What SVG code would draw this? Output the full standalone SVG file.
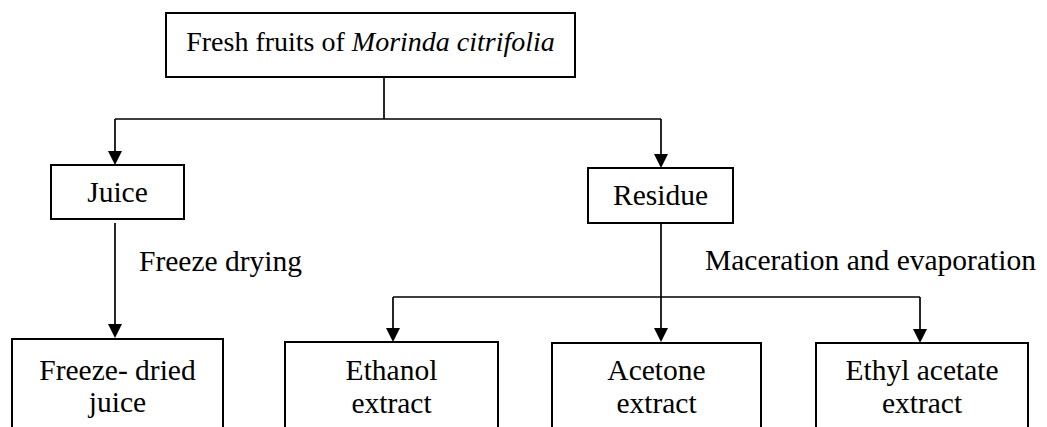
<svg xmlns="http://www.w3.org/2000/svg" width="1047" height="427" viewBox="0 0 1047 427">
<defs>
<style>
.box{fill:#fff;stroke:#000;stroke-width:2}
.t{font-family:"Liberation Serif","Times New Roman",serif;font-size:29.5px;fill:#000}
.c{text-anchor:middle}
.ln{fill:none;stroke:#000;stroke-width:1.7}
.ah{fill:#000}
</style>
</defs>
<rect width="1047" height="427" fill="#fff"/>
<g id="connectors">
<path class="ln" d="M384,77 V119"/>
<path class="ln" d="M115,119 H661"/>
<path class="ln" d="M115,119 V151"/>
<path class="ln" d="M661,119 V154"/>
<path class="ln" d="M115,223 V324"/>
<path class="ln" d="M661,223 V328"/>
<path class="ln" d="M393,297 H920"/>
<path class="ln" d="M393,297 V328"/>
<path class="ln" d="M920,297 V329"/>
<path class="ah" d="M108,151 L122,151 L115,165 Z"/>
<path class="ah" d="M654,154 L668,154 L661,168 Z"/>
<path class="ah" d="M108,324 L122,324 L115,338 Z"/>
<path class="ah" d="M386,328 L400,328 L393,342 Z"/>
<path class="ah" d="M654,328 L668,328 L661,342 Z"/>
<path class="ah" d="M913,329 L927,329 L920,343 Z"/>
<text class="t" x="139" y="271">Freeze drying</text>
<text class="t" x="705" y="270">Maceration and evaporation</text>
</g>
<g id="fresh">
<rect class="box" x="166" y="13" width="409" height="64"/>
<text class="t c" x="370.5" y="51" style="font-size:28px">Fresh fruits of <tspan font-style="italic">Morinda citrifolia</tspan></text>
</g>
<g id="juice">
<rect class="box" x="51" y="165" width="133" height="54"/>
<text class="t c" x="117.5" y="202">Juice</text>
</g>
<g id="residue">
<rect class="box" x="588" y="168" width="145" height="55"/>
<text class="t c" x="660.5" y="205">Residue</text>
</g>
<g id="freeze-dried">
<rect class="box" x="12" y="339" width="211" height="110"/>
<text class="t c" x="117.5" y="380">Freeze- dried</text>
<text class="t c" x="117.5" y="412">juice</text>
</g>
<g id="ethanol">
<rect class="box" x="285" y="342" width="213" height="110"/>
<text class="t c" x="391.5" y="380">Ethanol</text>
<text class="t c" x="391.5" y="413">extract</text>
</g>
<g id="acetone">
<rect class="box" x="552" y="343" width="209" height="110"/>
<text class="t c" x="656.5" y="380">Acetone</text>
<text class="t c" x="656.5" y="413">extract</text>
</g>
<g id="ethyl">
<rect class="box" x="816" y="343" width="212" height="110"/>
<text class="t c" x="922" y="380">Ethyl acetate</text>
<text class="t c" x="922" y="413">extract</text>
</g>
</svg>
